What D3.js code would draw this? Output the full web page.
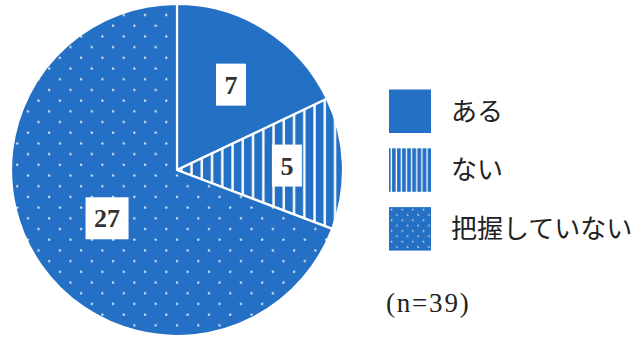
<!DOCTYPE html>
<html>
<head>
<meta charset="utf-8">
<script src="https://cdn.jsdelivr.net/npm/d3@7"></script>
<style>
  html, body { margin: 0; padding: 0; background: #fff; }
  svg { display: block; }
</style>
</head>
<body>
<svg id="chart" width="637" height="338"></svg>
<script>
// Survey responses (n=39)
const categories = ["ある", "ない", "把握していない"];
const counts = [7, 5, 27];
const patternIds = ["fill-solid", "fill-stripe", "fill-dots"];
const legendPatternIds = ["fill-solid", "lg-stripe", "lg-dots"];
const labelRadius = [101, 110, 85];
const noteText = "(n=39)";

const blue = "#2470c4";
const svg = d3.select("#chart");
const cx = 177, cy = 170, radius = 166;

const defs = svg.append("defs");

// Solid
// (plain fill, referenced by id for consistency)
// Vertical stripes for the pie
const stripe = defs.append("pattern")
  .attr("id", "fill-stripe").attr("patternUnits", "userSpaceOnUse")
  .attr("width", 10.25).attr("height", 10);
stripe.append("rect").attr("width", 10.25).attr("height", 10).attr("fill", blue);
stripe.append("rect").attr("x", 4.3 - 1.2).attr("width", 2.4).attr("height", 10).attr("fill", "#fff");

// Staggered dots for the pie
const dots = defs.append("pattern")
  .attr("id", "fill-dots").attr("patternUnits", "userSpaceOnUse")
  .attr("x", -5).attr("width", 21.3).attr("height", 21.4);
dots.append("rect").attr("width", 21.3).attr("height", 21.4).attr("fill", blue);
[[5, 5.5], [15.65, 16.2]].forEach(([x, y]) =>
  dots.append("circle").attr("cx", x).attr("cy", y).attr("r", 1.15).attr("fill", "#e6eefa"));

// Smaller versions of the patterns for the legend swatches
const lgStripe = defs.append("pattern")
  .attr("id", "lg-stripe").attr("patternUnits", "userSpaceOnUse")
  .attr("width", 5.1).attr("height", 10);
lgStripe.append("rect").attr("width", 5.1).attr("height", 10).attr("fill", blue);
lgStripe.append("rect").attr("x", 3.7 - 0.65).attr("width", 1.3).attr("height", 10).attr("fill", "#fff");

const lgDots = defs.append("pattern")
  .attr("id", "lg-dots").attr("patternUnits", "userSpaceOnUse")
  .attr("x", 389).attr("y", 207).attr("width", 10.65).attr("height", 10.7);
lgDots.append("rect").attr("width", 10.65).attr("height", 10.7).attr("fill", blue);
[[2.6, 2.6], [7.9, 7.95]].forEach(([x, y]) =>
  lgDots.append("circle").attr("cx", x).attr("cy", y).attr("r", 0.8).attr("fill", "#e6eefa"));

const fills = patternIds.map(id => id === "fill-solid" ? blue : `url(#${id})`);
const legendFills = legendPatternIds.map(id => id === "fill-solid" ? blue : `url(#${id})`);

// Pie
const pie = d3.pie().sort(null).value(d => d)(counts);
const arc = d3.arc().innerRadius(0).outerRadius(radius);

const g = svg.append("g").attr("transform", `translate(${cx},${cy})`);
g.selectAll("path.slice")
  .data(pie)
  .join("path")
  .attr("class", "slice")
  .attr("d", arc)
  .attr("fill", (d, i) => fills[i])
  .attr("stroke", "#fff")
  .attr("stroke-width", 2.2)
  .attr("stroke-linejoin", "miter");

// Value labels in white boxes
const labels = g.selectAll("g.lbl")
  .data(pie)
  .join("g")
  .attr("class", "lbl")
  .attr("transform", (d, i) => {
    const a = (d.startAngle + d.endAngle) / 2;
    const r = labelRadius[i];
    return `translate(${r * Math.sin(a)},${-r * Math.cos(a)})`;
  });

labels.each(function (d) {
  const sel = d3.select(this);
  const t = sel.append("text")
    .attr("text-anchor", "middle")
    .attr("dy", "0.35em")
    .attr("font-family", "'Liberation Serif', 'DejaVu Serif', serif")
    .attr("font-weight", "bold")
    .attr("font-size", 26)
    .attr("fill", "#333")
    .text(d.data);
  const w = t.node().getComputedTextLength() + 17;
  const h = 42;
  sel.insert("rect", "text")
    .attr("x", -w / 2).attr("y", -h / 2)
    .attr("width", w).attr("height", h)
    .attr("fill", "#fff");
});

// Legend
const lx = 389, ly = 89.5, lw = 42, lh = 43.5, lstep = 58.8;
const legend = svg.append("g");
categories.forEach((c, i) => {
  const y = ly + i * lstep;
  legend.append("rect")
    .attr("x", lx).attr("y", y).attr("width", lw).attr("height", lh)
    .attr("fill", legendFills[i]);
  legend.append("text")
    .attr("x", 451).attr("y", y + lh / 2)
    .attr("dy", "0.36em")
    .attr("font-family", "'Noto Sans CJK JP', sans-serif")
    .attr("font-size", 26)
    .attr("fill", "#222")
    .text(c);
});

svg.append("text")
  .attr("x", 386).attr("y", 303)
  .attr("dy", "0.35em")
  .attr("font-family", "'Liberation Serif', serif")
  .attr("font-size", 27)
  .attr("letter-spacing", 1.8)
  .attr("fill", "#222")
  .text(noteText);
</script>
</body>
</html>
